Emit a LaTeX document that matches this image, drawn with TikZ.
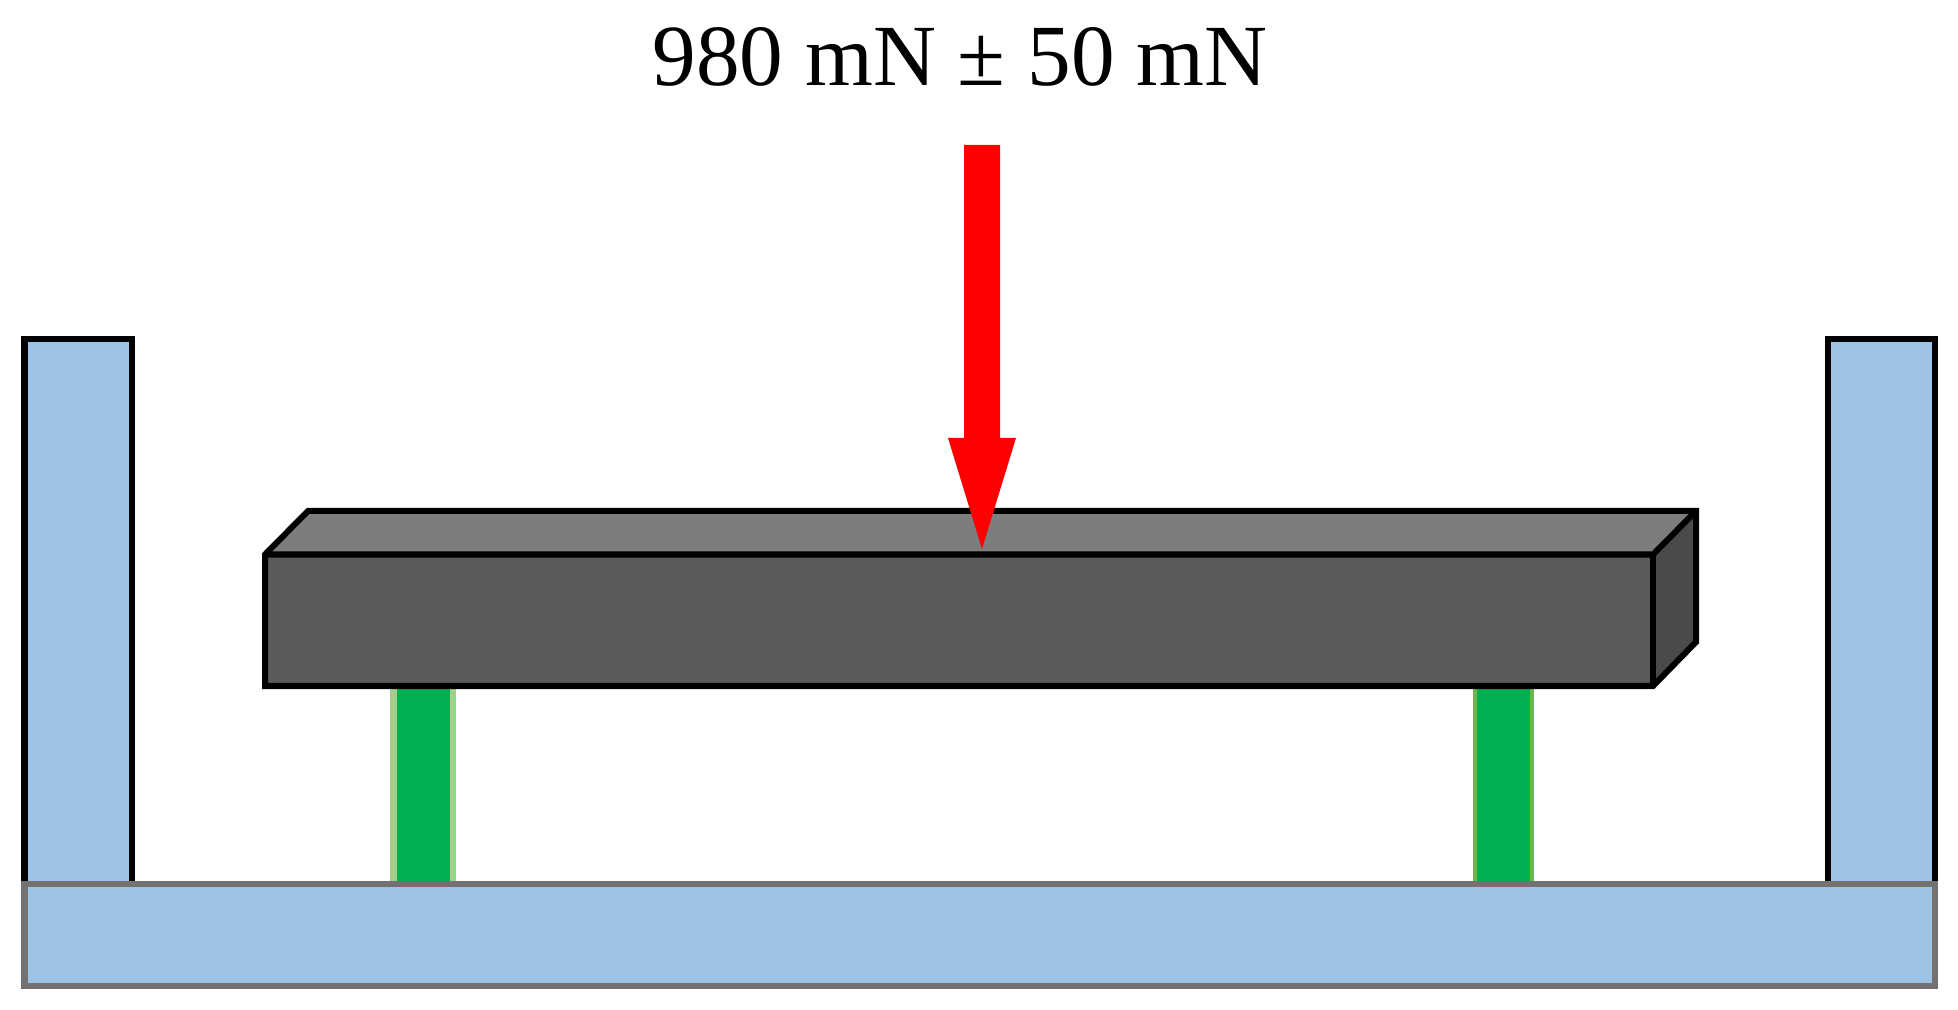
\documentclass[tikz,border=0pt]{standalone}
\usepackage{fontspec}
\setmainfont{Liberation Serif}
\definecolor{postblue}{HTML}{9DC3E6}
\definecolor{basegray}{HTML}{767171}
\definecolor{springgreen}{HTML}{00B050}
\definecolor{springedgel}{HTML}{A3CF8A}
\definecolor{springedger}{HTML}{70B548}
\definecolor{beamfront}{HTML}{5B5B5B}
\definecolor{beamtop}{HTML}{7D7D7D}
\definecolor{beamside}{HTML}{4A4A4A}

\begin{document}
\begin{tikzpicture}[x=0.01cm,y=-0.01cm,part/.style={draw=black,line width=0.06cm,miter limit=10},
	post/.style={part,fill=postblue}]
\useasboundingbox (0,0) rectangle (1958,1010);
% springs
\fill[springedgel] (390,686) rectangle (456,884);
\fill[springgreen] (397,686) rectangle (450,884);
\fill[springedger] (1473,686) rectangle (1534,884);
\fill[springgreen] (1477,686) rectangle (1530,884);
% frame
\draw[post] (24.5,884) -- (24.5,339) -- (131.5,339) -- (131.5,884);
\draw[post] (1828,884) -- (1828,339) -- (1934.5,339) -- (1934.5,884);
\draw[part,draw=basegray,fill=postblue] (24.5,884) rectangle (1934.5,986);
% beam
\fill[beamfront] (265,554.5) rectangle (1653,686);
\fill[beamtop] (265,554.5) -- (308,511) -- (1696,511) -- (1653,554.5) -- cycle;
\fill[beamside] (1653,554.5) -- (1696,511) -- (1696,642) -- (1653,686) -- cycle;
\draw[part] (265,554.5) -- (1653,554.5) -- (1696,511);
\draw[part] (1653,554.5) -- (1653,686);
\draw[part] (265,554.5) -- (308,511) -- (1696,511) -- (1696,642) -- (1653,686) -- (265,686) -- cycle;
% load
\fill[red] (964,145) -- (1000,145) -- (1000,438) -- (1016,438) -- (982,549) -- (948,438) -- (964,438) -- cycle;
\node[font=\fontsize{24.8pt}{30pt}\selectfont,anchor=base,inner sep=0pt] (loadlabel) at (960,86) {980 mN ± 50 mN};
\end{tikzpicture}
\end{document}
